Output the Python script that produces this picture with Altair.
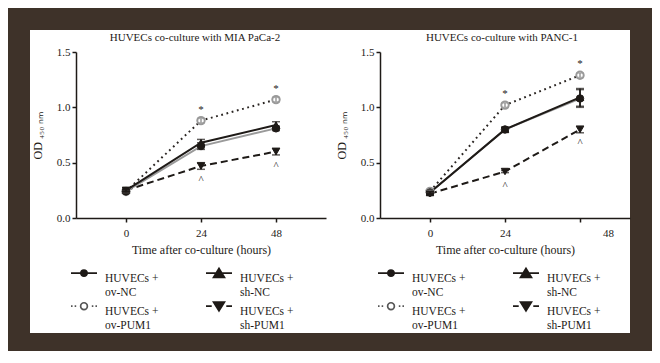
import altair as alt
import pandas as pd

# ---------------- data ----------------
HOURS = [0, 24, 48]
SERIES = ["ov-NC", "ov-PUM1", "sh-NC", "sh-PUM1"]
LEGEND_LABELS = ["HUVECs +|ov-NC", "HUVECs +|ov-PUM1", "HUVECs +|sh-NC", "HUVECs +|sh-PUM1"]
SIG_HOURS = [24, 48]

# HUVECs co-culture with MIA PaCa-2
MIA_OV_NC = [0.24, 0.65, 0.81]
MIA_OV_NC_ERR = [0.01, 0.03, 0.02]
MIA_SH_NC = [0.25, 0.68, 0.84]
MIA_SH_NC_ERR = [0.01, 0.03, 0.03]
MIA_OV_PUM1 = [0.24, 0.88, 1.07]
MIA_OV_PUM1_ERR = [0.01, 0.02, 0.02]
MIA_SH_PUM1 = [0.25, 0.47, 0.60]
MIA_SH_PUM1_ERR = [0.01, 0.03, 0.03]

# HUVECs co-culture with PANC-1
PANC_OV_NC = [0.23, 0.80, 1.08]
PANC_OV_NC_ERR = [0.01, 0.02, 0.08]
PANC_SH_NC = [0.23, 0.80, 1.09]
PANC_SH_NC_ERR = [0.01, 0.02, 0.08]
PANC_OV_PUM1 = [0.24, 1.02, 1.29]
PANC_OV_PUM1_ERR = [0.01, 0.02, 0.02]
PANC_SH_PUM1 = [0.22, 0.42, 0.80]
PANC_SH_PUM1_ERR = [0.01, 0.01, 0.03]

TITLE_LEFT = "HUVECs co-culture with MIA PaCa-2"
TITLE_RIGHT = "HUVECs co-culture with PANC-1"
X_TITLE = "Time after co-culture (hours)"
Y_TITLE = "OD ₄₅₀ ₙₘ"

# ---------------- style ----------------
SERIF = "Liberation Serif"
INK = "#1e1a17"
BG = "#3e3229"
GRAY = "#9a9a9a"

STYLE = {
    "ov-NC": dict(line=GRAY, dash=None, shape="circle", fill=INK, stroke=INK, size=55, err=INK),
    "sh-NC": dict(line=INK, dash=None, shape="triangle-up", fill=INK, stroke=INK, size=55, err=INK),
    "ov-PUM1": dict(line="#2a2522", dash=[1.8, 3.6], shape="circle", fill="white", stroke=GRAY, size=55, err=GRAY),
    "sh-PUM1": dict(line=INK, dash=[7, 4], shape="triangle-down", fill=INK, stroke=INK, size=55, err=INK),
}
DRAW_ORDER = ["ov-PUM1", "sh-PUM1", "ov-NC", "sh-NC"]


def sym_paths(s):
    y = s
    return [
        f"M-1,{y}H1M0.24,{y}A0.24,0.24,0,1,1,-0.24,{y}A0.24,0.24,0,1,1,0.24,{y}Z",
        f"M-1,{y}H-0.88M-0.72,{y}H-0.6M0.6,{y}H0.72M0.88,{y}H1"
        f"M0.26,{y}A0.26,0.26,0,1,1,-0.26,{y}A0.26,0.26,0,1,1,0.26,{y}Z",
        f"M-1,{y}H1M0,{y-0.36}L0.42,{y+0.32}L-0.42,{y+0.32}Z",
        f"M-1,{y}H-0.56M0.56,{y}H1M0,{y+0.36}L0.42,{y-0.32}L-0.42,{y-0.32}Z",
    ]


LEG_PATHS = sym_paths(-0.45)
LEG_FILLS = [INK, "white", INK, INK]
LEG_STROKES = [INK, "#555555", INK, INK]


def panel_df(vals, errs):
    rows = []
    for s, lab in zip(SERIES, LEGEND_LABELS):
        for h, m, e in zip(HOURS, vals[s], errs[s]):
            rows.append(dict(hour=h, series=s, legend=lab, mean=m, err=e, lo=m - e, hi=m + e))
    return pd.DataFrame(rows)


mia = panel_df(
    {"ov-NC": MIA_OV_NC, "sh-NC": MIA_SH_NC, "ov-PUM1": MIA_OV_PUM1, "sh-PUM1": MIA_SH_PUM1},
    {"ov-NC": MIA_OV_NC_ERR, "sh-NC": MIA_SH_NC_ERR, "ov-PUM1": MIA_OV_PUM1_ERR, "sh-PUM1": MIA_SH_PUM1_ERR},
)
panc = panel_df(
    {"ov-NC": PANC_OV_NC, "sh-NC": PANC_SH_NC, "ov-PUM1": PANC_OV_PUM1, "sh-PUM1": PANC_SH_PUM1},
    {"ov-NC": PANC_OV_NC_ERR, "sh-NC": PANC_SH_NC_ERR, "ov-PUM1": PANC_OV_PUM1_ERR, "sh-PUM1": PANC_SH_PUM1_ERR},
)

W, H = 250, 166


def panel(df, title, right):
    xaxis = alt.Axis(
        values=HOURS, title=X_TITLE, labelPadding=5, titlePadding=6, labelFlush=False, zindex=1,
        labelOffset=alt.condition("datum.value === 48", alt.value(28 if right else 0), alt.value(0)),
    )
    yaxis = alt.Axis(values=[0, 0.5, 1.0, 1.5], format=".1f", title=Y_TITLE, titlePadding=12, zindex=1)

    def X(f="hour"):
        return alt.X(f"{f}:Q", scale=alt.Scale(domain=[-16, 64], nice=False, zero=False), axis=xaxis)

    def Y(f):
        return alt.Y(f"{f}:Q", scale=alt.Scale(domain=[0, 1.5], nice=False, zero=True), axis=yaxis)

    base = alt.Chart(df)
    x0 = -50 if right else -46
    layers = [
        alt.Chart(alt.Data(values=[{"k": 1}])).mark_rect(color="white").encode(
            x=alt.value(x0), x2=alt.value(x0 + 300), y=alt.value(-22), y2=alt.value(281)
        )
    ]
    for s in DRAW_ORDER:
        st = STYLE[s]
        kw = dict(color=st["line"], strokeWidth=2)
        if st["dash"]:
            kw["strokeDash"] = st["dash"]
        layers.append(base.transform_filter(alt.datum.series == s).mark_line(**kw).encode(x=X(), y=Y("mean")))
    for s in DRAW_ORDER:
        st = STYLE[s]
        layers.append(
            base.transform_filter(alt.datum.series == s)
            .mark_point(shape=st["shape"], filled=True, fill=st["fill"], stroke=st["stroke"],
                        strokeWidth=2 if s == "ov-PUM1" else 1, size=st["size"], opacity=1)
            .encode(x=X(), y=Y("mean"))
        )
    for s in DRAW_ORDER:
        st = STYLE[s]
        sub = base.transform_filter(alt.datum.series == s)
        layers.append(sub.mark_rule(color=st["err"], strokeWidth=1.5).encode(x=X(), y=Y("lo"), y2="hi:Q"))
        layers.append(sub.mark_tick(color=st["err"], thickness=1.5, size=8, orient="horizontal")
                      .encode(x=X(), y=Y("lo")))
        layers.append(sub.mark_tick(color=st["err"], thickness=1.5, size=8, orient="horizontal")
                      .encode(x=X(), y=Y("hi")))
    sig = base.transform_filter(alt.FieldOneOfPredicate(field="hour", oneOf=SIG_HOURS))
    layers.append(sig.transform_filter(alt.datum.series == "ov-PUM1")
                  .mark_text(text="*", font=SERIF, fontSize=11, color=INK, baseline="middle", dy=-11)
                  .encode(x=X(), y=Y("mean")))
    layers.append(sig.transform_filter(alt.datum.series == "sh-PUM1")
                  .mark_text(text="^", font=SERIF, fontSize=11, color=INK, baseline="middle", dy=14)
                  .encode(x=X(), y=Y("mean")))

    leg = alt.Legend(
        title=None, orient="none", legendX=-6 if not right else -3, legendY=213, columns=2,
        symbolSize=676, symbolStrokeWidth=1.7, labelExpr="split(datum.label, '|')",
        labelFont=SERIF, labelFontSize=11.5, labelColor=INK, labelOffset=7, labelBaseline="middle",
        labelLimit=0, columnPadding=43, rowPadding=-1, zindex=1, padding=0,
    )
    layers.append(
        base.transform_filter("false").mark_point(filled=True, opacity=1).encode(
            shape=alt.Shape("legend:N", scale=alt.Scale(domain=LEGEND_LABELS, range=LEG_PATHS), legend=leg),
            fill=alt.Fill("legend:N", scale=alt.Scale(domain=LEGEND_LABELS, range=LEG_FILLS), legend=leg),
            stroke=alt.Stroke("legend:N", scale=alt.Scale(domain=LEGEND_LABELS, range=LEG_STROKES), legend=leg),
        )
    )
    return alt.layer(*layers).properties(
        width=W, height=H,
        title=alt.TitleParams(title, font=SERIF, fontSize=11, fontWeight="normal", color=INK,
                              anchor="middle", frame="group", offset=-13, zindex=1,
                              dx=-3 if right else -6),
    )


chart = (
    alt.hconcat(panel(mia, TITLE_LEFT, False), panel(panc, TITLE_RIGHT, True), spacing=0)
    .resolve_scale(shape="independent", fill="independent", stroke="independent")
    .resolve_legend(shape="independent", fill="independent", stroke="independent")
    .properties(background=BG, padding={"left": 22, "top": 22, "right": 22, "bottom": 18})
    .configure_view(stroke=None)
    .configure_axis(
        domainColor=INK, domainWidth=1.5, tickColor=INK, tickWidth=1.5, tickSize=4,
        labelFont=SERIF, labelFontSize=11, labelColor=INK, titleFont=SERIF, titleFontSize=12,
        titleColor=INK, titleFontWeight="normal", grid=False,
    )
)

chart.save("out.html", embed_options={"renderer": "svg", "actions": False})
